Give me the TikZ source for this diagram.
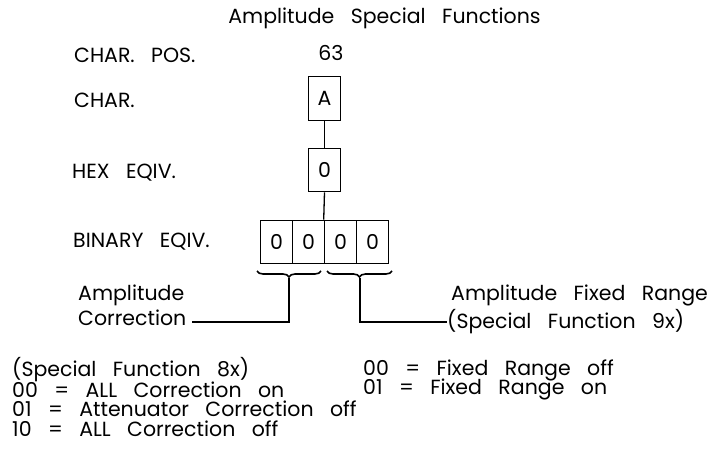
\documentclass[tikz,border=0pt]{standalone}
\usepackage{fontspec}
\setmainfont{Poppins}[WordSpace=3.0]
\usetikzlibrary{decorations.pathreplacing}
\tikzset{
  txt/.style={inner sep=0pt, anchor=west, font=\fontsize{20.5}{24}\selectfont},
  ctxt/.style={inner sep=0pt, font=\fontsize{20.5}{24}\selectfont},
  cellbox/.style={draw, line width=1.1pt, minimum width=32.5pt, minimum height=43.5pt, inner sep=0pt, font=\fontsize{20.5}{24}\selectfont},
  conn/.style={line width=1.3pt},
  lead/.style={line width=2pt},
  brc/.style={line width=1.6pt, decorate, decoration={brace, mirror, amplitude=6pt}}
}
\begin{document}
\begin{tikzpicture}[x=1pt, y=-1pt]
\useasboundingbox (0,0) rectangle (712,449);
% title
\node[ctxt] (title) at (384.5,18) {Amplitude Special Functions};
% left labels
\node[txt] (lpos) at (74,55) {CHAR. POS.};
\node[txt] (lchar) at (74,100) {CHAR.};
\node[txt] (lhex) at (72,173) {HEX EQIV.};
\node[txt] (lbin) at (73,242) {BINARY EQIV.};
\node[ctxt] (pos) at (331,53) {63};
% boxes
\node[cellbox] (cA) at (324.5,98.5) {A};
\node[cellbox] (cH) at (324.5,170) {0};
\node[cellbox] (b1) at (276.5,242) {0};
\node[cellbox] (b2) at (308.5,242) {0};
\node[cellbox] (b3) at (340.5,242) {0};
\node[cellbox] (b4) at (372.5,242) {0};
\draw[conn] (cA.south) -- (cH.north);
\draw[conn] (cH.south) -- (b3.north west);
% braces
\coordinate (lbs) at (257,271);
\coordinate (lbe) at (321,271);
\coordinate (rbs) at (327,271);
\coordinate (rbe) at (392,271);
\draw[brc] (lbs) -- (lbe);
\draw[brc] (rbs) -- (rbe);
\coordinate (ltip) at (289,278);
\coordinate (rtip) at (359.5,278);
% left leader
\node[txt] (amp1) at (78,295) {Amplitude};
\node[txt] (amp2) at (78,318) {Correction};
\coordinate (lc) at (289,322);
\draw[lead] (ltip) -- (lc) -- ([xshift=5pt]amp2.east |- lc);
% right leader
\node[txt] (fr1) at (451,295) {Amplitude Fixed Range};
\node[txt] (fr2) at (447,322) {(Special Function 9x)};
\coordinate (rc) at (359.5,322);
\draw[lead] (rtip) -- (rc) -- (fr2.west |- rc);
% bottom notes
\node[txt] (n1) at (12,370) {(Special Function 8x)};
\node[txt] (n2) at (12,389.5) {00 = ALL Correction on};
\node[txt] (n3) at (12,409) {01 = Attenuator Correction off};
\node[txt] (n4) at (12,428.5) {10 = ALL Correction off};
\node[txt] (m1) at (363,370) {00 = Fixed Range off};
\node[txt] (m2) at (363,389.5) {01 = Fixed Range on};
\end{tikzpicture}
\end{document}
